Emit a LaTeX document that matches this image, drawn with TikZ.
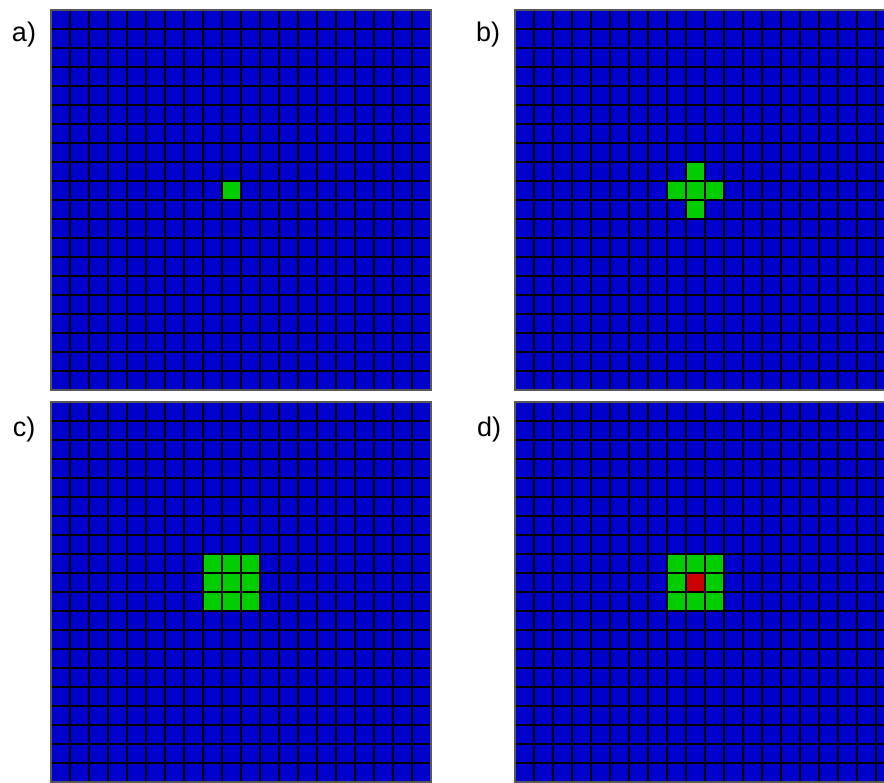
\documentclass[tikz,border=0pt]{standalone}
\usepackage{fontspec}
\setmainfont{Liberation Sans}
\definecolor{gblue}{RGB}{0,0,204}
\definecolor{ggreen}{RGB}{0,204,0}
\definecolor{gred}{RGB}{204,0,0}
\newcommand\drawpanel[4]{%
  \begin{scope}[shift={(#1,#2)}]
    \fill[gblue] (0,0) rectangle (380,380);
    \foreach \c/\r in {#3} \fill[ggreen] (\c*19,\r*19) rectangle ++(19,19);
    \foreach \c/\r in {#4} \fill[gred] (\c*19,\r*19) rectangle ++(19,19);
    \foreach \i in {1,...,19} {
      \draw[gridline] (\i*19,0) -- (\i*19,380);
      \draw[gridline] (0,\i*19) -- (380,\i*19);
    }
    \draw[panelborder] (0,0) rectangle (380,380);
  \end{scope}}
\begin{document}
\begin{tikzpicture}[x=1pt,y=-1pt,
  gridline/.style={black,line width=1.1pt},
  panelborder/.style={draw=gray!70!black,line width=1.2pt},
  lab/.style={font=\fontsize{27}{32}\selectfont,inner sep=0pt,anchor=center}]
\useasboundingbox (0,0) rectangle (884,783);
\clip (0,0) rectangle (884,783);
\fill[white] (0,0) rectangle (884,783);
\drawpanel{51}{10}{9/9}{}
\drawpanel{515}{10}{9/9,9/8,9/10,8/9,10/9}{}
\drawpanel{51}{402}{8/8,9/8,10/8,8/9,9/9,10/9,8/10,9/10,10/10}{}
\drawpanel{515}{402}{8/8,9/8,10/8,8/9,9/9,10/9,8/10,9/10,10/10}{9/9}
\node[lab] (la) at (24,35) {a)};
\node[lab] (lb) at (488,35) {b)};
\node[lab] (lc) at (24,430) {c)};
\node[lab] (ld) at (489,430) {d)};
\end{tikzpicture}
\end{document}
